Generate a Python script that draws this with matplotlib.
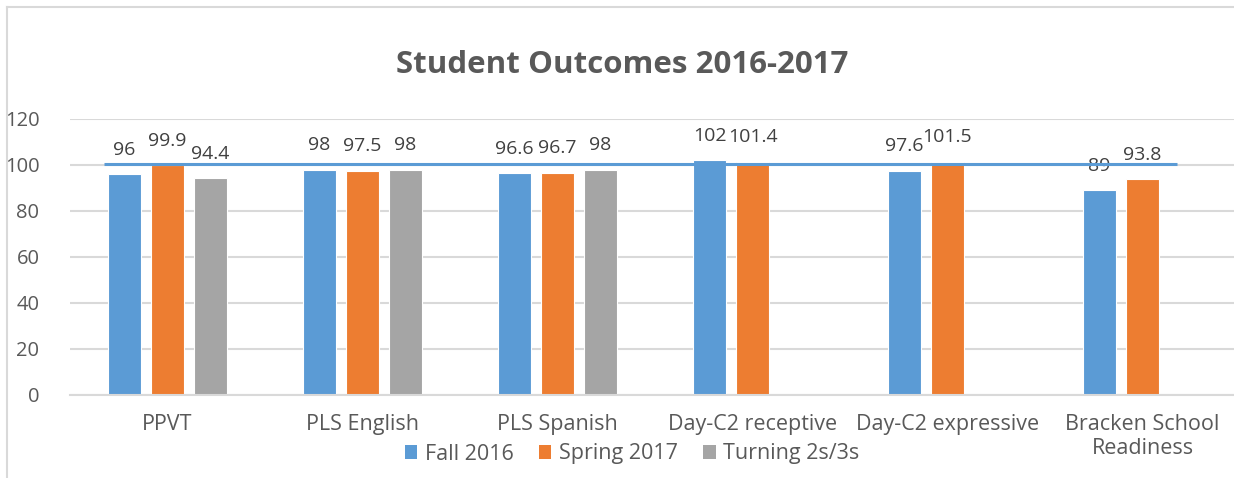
import numpy as np
import matplotlib

matplotlib.use("Agg")
import matplotlib.pyplot as plt
from matplotlib.lines import Line2D
from matplotlib.patches import Patch

plt.rcParams["font.family"] = ["Open Sans", "DejaVu Sans"]

categories = ["PPVT", "PLS English", "PLS Spanish", "Day-C2 receptive",
              "Day-C2 expressive", "Bracken School\nReadiness"]
series_names = ["Fall 2016", "Spring 2017", "Turning 2s/3s"]
fall_2016 = [96, 98, 96.6, 102, 97.6, 89]
spring_2017 = [99.9, 97.5, 96.7, 101.4, 101.5, 93.8]
turning_2s3s = [94.4, 98, 98, np.nan, np.nan, np.nan]
reference_level = 100.6
y_ticks = [0, 20, 40, 60, 80, 100, 120]

COLORS = ["#5B9BD5", "#ED7D31", "#A5A5A5"]
TEXT = "#595959"
GRID = "#D9D9D9"
FS = 15.5
FS_NUM = 14

fig = plt.figure(figsize=(12.34, 4.78), dpi=100, facecolor="white")
ax = fig.add_axes([70 / 1234, 83 / 478, 1170 / 1234, 276 / 478])

x = np.arange(len(categories))
step = 0.2205
width = 0.174
for k, values in enumerate([fall_2016, spring_2017, turning_2s3s]):
    xs = x + (k - 1) * step
    ax.bar(xs, values, width, color=COLORS[k], edgecolor="white",
           linewidth=0.8, zorder=2)
    for xi, v in zip(xs, values):
        if np.isnan(v):
            continue
        ax.annotate(f"{v:g}", (xi, v), xytext=(0, 17.5), textcoords="offset points",
                    ha="center", va="center", fontsize=FS_NUM, color="#404040")

# reference line drawn across the chart
ax.plot([-0.326, 5.177], [reference_level, reference_level], color="#5B9BD5",
        linewidth=2.2, zorder=3, solid_capstyle="butt")

ax.set_xlim(-0.5, len(categories) - 0.5)
ax.set_ylim(0, 120)
ax.set_yticks(y_ticks)
ax.set_xticks(x)
ax.set_xticklabels(categories, linespacing=1.15)
ax.yaxis.grid(True, color=GRID, linewidth=1.5, zorder=0)
ax.set_axisbelow(True)
for side in ["top", "right", "left"]:
    ax.spines[side].set_visible(False)
ax.spines["bottom"].set_color(GRID)
ax.spines["bottom"].set_linewidth(1.5)
ax.tick_params(axis="x", length=0, labelsize=FS, labelcolor=TEXT, pad=14)
ax.tick_params(axis="y", length=0, labelsize=FS_NUM + 0.5, labelcolor=TEXT, pad=22)

fig.text(622 / 1234, 1 - 65 / 478, "Student Outcomes 2016-2017", ha="center",
         va="center", fontsize=22.5, fontweight="bold", color=TEXT)

handles = [Patch(facecolor=c, edgecolor="none") for c in COLORS]
fig.legend(handles, series_names, loc="center",
           bbox_to_anchor=(632 / 1234, 1 - 454 / 478), ncol=3, frameon=False,
           fontsize=FS, labelcolor=TEXT, handlelength=0.6, handleheight=0.6,
           handletextpad=0.35, columnspacing=1.15, borderpad=0)

# chart frame (left and top edges visible in the crop)
fig.add_artist(Line2D([7 / 1234, 7 / 1234], [0, 1 - 7 / 478], color=GRID,
                      linewidth=1.5, transform=fig.transFigure))
fig.add_artist(Line2D([7 / 1234, 1], [1 - 7 / 478, 1 - 7 / 478], color=GRID,
                      linewidth=1.5, transform=fig.transFigure))

fig.savefig("out.png", dpi=100, facecolor="white")
